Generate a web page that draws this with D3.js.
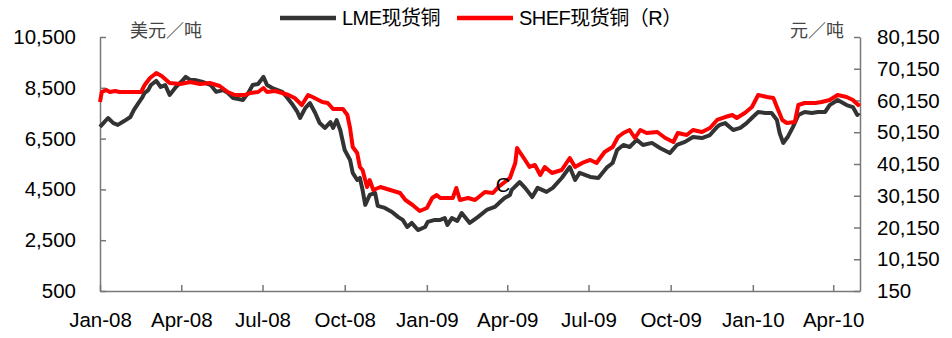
<!DOCTYPE html>
<html>
<head>
<meta charset="utf-8">
<script src="https://cdn.jsdelivr.net/npm/d3@7"></script>
<style>
  body { margin: 0; background: #fff; }
  svg { display: block; }
  .axis text { font-family: "Liberation Sans", Arial, sans-serif; font-size: 20.5px; fill: #000; }
  .axis path, .axis line { stroke: #777; stroke-width: 1.5px; }
</style>
</head>
<body>
<svg width="952" height="338"></svg>
<script>
// LME spot copper, USD/t (left axis)
var lmeDates = ["2008-01-01","2008-01-10","2008-01-16","2008-01-21","2008-01-28","2008-02-04","2008-02-08","2008-02-13","2008-02-17","2008-02-20",
  "2008-02-24","2008-02-27","2008-03-04","2008-03-09","2008-03-14","2008-03-19","2008-03-26","2008-04-03","2008-04-06","2008-04-11",
  "2008-04-16","2008-04-25","2008-05-04","2008-05-10","2008-05-18","2008-05-23","2008-05-29","2008-06-04","2008-06-09","2008-06-15",
  "2008-06-20","2008-06-26","2008-07-02","2008-07-06","2008-07-12","2008-07-23","2008-07-28","2008-08-04","2008-08-09","2008-08-12",
  "2008-08-18","2008-08-23","2008-08-29","2008-09-03","2008-09-09","2008-09-15","2008-09-18","2008-09-22","2008-09-26","2008-10-01",
  "2008-10-07","2008-10-10","2008-10-15","2008-10-18","2008-10-21","2008-10-24","2008-10-29","2008-11-04","2008-11-07","2008-11-15",
  "2008-11-23","2008-11-30","2008-12-05","2008-12-10","2008-12-15","2008-12-22","2008-12-30","2009-01-02","2009-01-10","2009-01-16",
  "2009-01-21","2009-01-24","2009-01-29","2009-02-04","2009-02-09","2009-02-18","2009-02-27","2009-03-09","2009-03-18","2009-03-24",
  "2009-03-29","2009-04-04","2009-04-06","2009-04-15","2009-04-21","2009-04-29","2009-05-05","2009-05-15","2009-05-22","2009-06-01",
  "2009-06-10","2009-06-16","2009-06-21","2009-07-03","2009-07-12","2009-07-22","2009-07-28","2009-08-02","2009-08-09","2009-08-16",
  "2009-08-24","2009-08-31","2009-09-10","2009-09-19","2009-09-30","2009-10-08","2009-10-17","2009-10-26","2009-11-05","2009-11-14",
  "2009-11-22","2009-11-25","2009-12-01","2009-12-10","2009-12-18","2009-12-25","2010-01-01","2010-01-07","2010-01-15","2010-01-22",
  "2010-01-28","2010-01-31","2010-02-04","2010-02-09","2010-02-15","2010-02-21","2010-02-28","2010-03-08","2010-03-15","2010-03-23",
  "2010-03-28","2010-04-06","2010-04-16","2010-04-23","2010-04-28","2010-04-30"];
var lmeValues = [6960,7310,7110,7040,7190,7350,7630,7900,8100,8300,
  8410,8610,8770,8530,8610,8220,8530,8810,8930,8810,
  8810,8730,8610,8340,8410,8300,8100,8060,8020,8300,
  8610,8650,8930,8610,8490,8340,8140,7820,7550,7310,
  7710,7900,7510,7110,6920,7150,6920,7230,6840,6050,
  5660,5150,4870,4950,4480,3890,4280,4360,3850,3770,
  3610,3410,3300,3020,3180,2900,3020,3220,3300,3300,
  3370,3100,3370,3260,3570,3180,3410,3690,3810,4000,
  4160,4280,4480,4790,4560,4200,4560,4400,4560,4950,
  5380,4870,5150,4990,4950,5380,5540,6050,6250,6170,
  6450,6250,6330,6130,5930,6250,6370,6560,6520,6640,
  6960,7040,7110,6840,6920,7110,7350,7550,7510,7510,
  7230,6720,6330,6560,6960,7430,7550,7510,7550,7550,
  7820,8020,7820,7740,7430,7510];

// SHFE spot copper, CNY/t (right axis)
var shefDates = ["2008-01-01","2008-01-03","2008-01-08","2008-01-12","2008-01-18","2008-01-23","2008-02-04","2008-02-16","2008-02-20","2008-02-26",
  "2008-03-04","2008-03-10","2008-03-19","2008-03-31","2008-04-11","2008-04-22","2008-05-03","2008-05-14","2008-05-23","2008-05-31",
  "2008-06-11","2008-06-17","2008-06-26","2008-07-02","2008-07-06","2008-07-15","2008-07-23","2008-07-30","2008-08-06","2008-08-14",
  "2008-08-21","2008-08-26","2008-09-06","2008-09-12","2008-09-18","2008-09-29","2008-10-04","2008-10-07","2008-10-10","2008-10-15",
  "2008-10-18","2008-10-21","2008-10-26","2008-10-29","2008-11-02","2008-11-10","2008-11-21","2008-12-02","2008-12-08","2008-12-16",
  "2008-12-24","2009-01-01","2009-01-07","2009-01-12","2009-01-16","2009-01-30","2009-02-03","2009-02-07","2009-02-16","2009-02-24",
  "2009-03-07","2009-03-16","2009-03-22","2009-04-04","2009-04-10","2009-04-12","2009-04-15","2009-04-21","2009-04-26","2009-05-02",
  "2009-05-08","2009-05-13","2009-05-21","2009-06-01","2009-06-10","2009-06-16","2009-06-24","2009-07-03","2009-07-10","2009-07-19",
  "2009-07-28","2009-08-03","2009-08-09","2009-08-16","2009-08-22","2009-08-28","2009-09-04","2009-09-16","2009-09-25","2009-10-04",
  "2009-10-09","2009-10-19","2009-10-26","2009-11-05","2009-11-14","2009-11-22","2009-12-01","2009-12-09","2009-12-14","2009-12-23",
  "2009-12-31","2010-01-07","2010-01-17","2010-01-24","2010-01-28","2010-02-03","2010-02-08","2010-02-17","2010-02-21","2010-02-28",
  "2010-03-12","2010-03-19","2010-03-28","2010-04-06","2010-04-16","2010-04-23","2010-04-29","2010-04-30"];
var shefValues = [59680,62830,63460,62830,63140,62830,62830,62830,65030,67240,
  68810,67870,65660,65350,65980,65350,65660,64720,62830,61880,
  61880,62510,62830,64090,62830,63140,62510,61880,60940,58730,
  61880,61250,59680,59360,57470,57470,55580,51490,45500,43610,
  39210,38260,32910,35110,31960,32910,31960,31020,28810,27240,
  25350,26290,29440,30390,29440,29440,32590,28810,29440,28810,
  31330,31020,32910,35740,40470,45190,43930,41410,39210,39840,
  36690,39210,37320,38260,42040,39210,40470,41410,40470,43930,
  45500,48650,49910,50860,48340,50860,49910,50230,48340,47080,
  49910,49280,50860,50230,51490,54010,54950,55580,54640,56210,
  58100,61880,61250,60940,58100,54010,53060,53380,58730,59360,
  59360,59680,60310,61880,61250,60310,58730,59360];

var leftTicks = [500, 2500, 4500, 6500, 8500, 10500];
var rightTicks = [150, 10150, 20150, 30150, 40150, 50150, 60150, 70150, 80150];
var xStart = "2008-01-01", xEnd = "2010-05-01";
var seriesNames = ["LME现货铜", "SHEF现货铜（R）"];
var seriesColors = ["#333333", "#ff0000"];

var svg = d3.select("svg");
var parse = d3.timeParse("%Y-%m-%d");
var plotL = 100, plotR = 860, plotT = 37, plotB = 291;

var x = d3.scaleTime().domain([parse(xStart), parse(xEnd)]).range([plotL, plotR]);
var yL = d3.scaleLinear().domain([500, 10500]).range([plotB, plotT]);
var yR = d3.scaleLinear().domain([150, 80150]).range([plotB, plotT]);

var fmt = d3.format(",");

svg.append("g").attr("class", "axis")
  .attr("transform", "translate(" + plotL + ",0)")
  .call(d3.axisLeft(yL).tickValues(leftTicks).tickFormat(fmt).tickSizeInner(-6).tickSizeOuter(0).tickPadding(24));

svg.append("g").attr("class", "axis")
  .attr("transform", "translate(" + plotR + ",0)")
  .call(d3.axisRight(yR).tickValues(rightTicks).tickFormat(fmt).tickSizeInner(-6).tickSizeOuter(0).tickPadding(17));

svg.append("g").attr("class", "axis")
  .attr("transform", "translate(0," + plotB + ")")
  .call(d3.axisBottom(x).ticks(d3.timeMonth.every(3)).tickFormat(d3.timeFormat("%b-%y")).tickSizeInner(-6).tickSizeOuter(0).tickPadding(21));

function lineOf(dates, values, yScale) {
  return d3.line()
    .x(function(d, i) { return x(parse(dates[i])); })
    .y(function(d) { return yScale(d); })(values);
}

svg.append("path")
  .attr("d", lineOf(lmeDates, lmeValues, yL))
  .attr("fill", "none").attr("stroke", seriesColors[0]).attr("stroke-width", 4)
  .attr("stroke-linejoin", "round");

svg.append("path")
  .attr("d", lineOf(shefDates, shefValues, yR))
  .attr("fill", "none").attr("stroke", seriesColors[1]).attr("stroke-width", 4)
  .attr("stroke-linejoin", "round");

// unit labels
svg.append("text").attr("x", 130).attr("y", 29).attr("dominant-baseline", "central")
  .style("font-family", "'Noto Sans CJK SC'").style("font-size", "18px").style("fill", "#444")
  .text("美元／吨");
svg.append("text").attr("x", 790).attr("y", 29).attr("dominant-baseline", "central")
  .style("font-family", "'Noto Sans CJK SC'").style("font-size", "18px").style("fill", "#444")
  .text("元／吨");

// stray marker label
svg.append("text").attr("x", 503).attr("y", 192).attr("text-anchor", "middle")
  .style("font-family", "'Liberation Sans', Arial").style("font-size", "20px").style("fill", "#000")
  .text("C");

// legend
var legendX = [280, 457];
seriesNames.forEach(function(name, i) {
  svg.append("line")
    .attr("x1", legendX[i]).attr("x2", legendX[i] + 56)
    .attr("y1", 18).attr("y2", 18)
    .attr("stroke", seriesColors[i]).attr("stroke-width", 4.5);
  svg.append("text")
    .attr("x", legendX[i] + 62).attr("y", 25)
    .style("font-family", "'Liberation Sans', 'Noto Sans CJK SC'")
    .style("font-size", "20px").style("fill", "#000")
    .style("letter-spacing", "-0.5px")
    .text(name);
});
</script>
</body>
</html>
